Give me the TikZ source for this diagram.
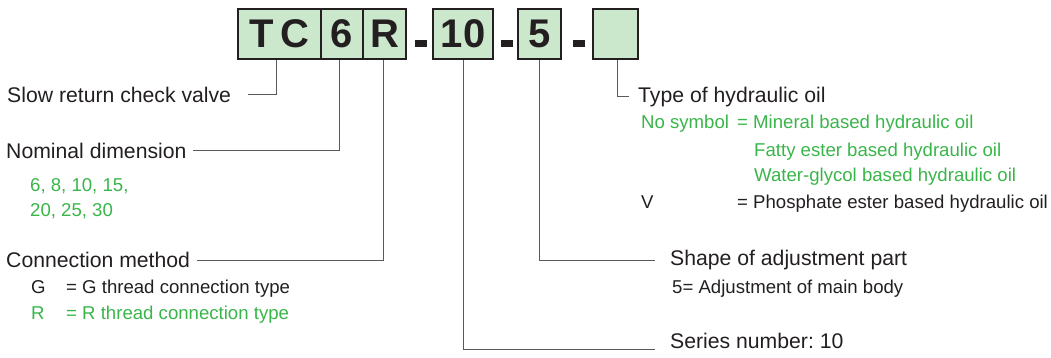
\documentclass[tikz,border=0pt]{standalone}
\usepackage{fontspec}
\setmainfont{Liberation Sans}
\frenchspacing
\definecolor{codefill}{RGB}{204,232,204}
\definecolor{codegreen}{RGB}{57,181,74}
\definecolor{ink}{RGB}{35,31,32}
\definecolor{leadgray}{RGB}{88,89,91}
\begin{document}
\begin{tikzpicture}[
    x=1pt, y=-1pt,
    codebox/.style={draw=ink, line width=1.3pt, fill=codefill, minimum height=50pt,
        inner sep=0pt, text=ink, font=\fontsize{40}{40}\selectfont\bfseries},
    sepbar/.style={fill=ink, minimum width=12pt, minimum height=7pt, inner sep=0pt},
    leader/.style={draw=leadgray, line width=1pt},
    head/.style={anchor=base west, inner sep=0pt, text=ink, font=\fontsize{21.2}{24}\selectfont},
    item/.style={anchor=base west, inner sep=0pt, text=ink, font=\fontsize{18.6}{22}\selectfont},
    greenitem/.style={item, text=codegreen}
]
    \useasboundingbox (0,0) rectangle (1051,358);

    % Define coordinates
    \def\boxY{34}
    \def\eqX{737}
    \def\valX{754}

    % Code boxes
    \node[codebox, minimum width=83pt] (tc) at (279.5,\boxY) {T\kern6pt C};
    \node[codebox, minimum width=42pt] (b6) at (342,\boxY) {6};
    \node[codebox, minimum width=43pt] (bR) at (384.5,\boxY) {R};
    \node[codebox, minimum width=60pt] (b10) at (463,\boxY) {10};
    \node[codebox, minimum width=43pt] (b5) at (539.5,\boxY) {5};
    \node[codebox, minimum width=45pt] (boil) at (615.5,\boxY) {};

    % Separators
    \foreach \x/\name in {421/sepA, 507/sepB, 578.5/sepC} {
        \node[sepbar] (\name) at (\x,43.5) {};
    }

    % Labels (left)
    \node[head] (slow) at (7,103) {Slow return check valve};
    \node[head] (nom) at (6,159) {Nominal dimension};
    \node[greenitem] (dimA) at (30,191) {6, 8, 10, 15,};
    \node[greenitem] (dimB) at (30,216) {20, 25, 30};
    \node[head] (con) at (6,267) {Connection method};
    \node[item] (gkey) at (31,293) {G};
    \node[item] (gval) at (66,293) {= G thread connection type};
    \node[greenitem] (rkey) at (31,319) {R};
    \node[greenitem] (rval) at (66,319) {= R thread connection type};

    % Labels (right)
    \node[head] (oil) at (638,103) {Type of hydraulic oil};
    \node[greenitem] (nosym) at (641,129) {No symbol};
    \node[greenitem] (mineral) at (\eqX,129) {= Mineral based hydraulic oil};
    \node[greenitem] (fatty) at (\valX,157) {Fatty ester based hydraulic oil};
    \node[greenitem] (glycol) at (\valX,182) {Water-glycol based hydraulic oil};
    \node[item] (vkey) at (641,208) {V};
    \node[item] (phos) at (\eqX,208) {= Phosphate ester based hydraulic oil};
    \node[head] (shape) at (670,265) {Shape of adjustment part};
    \node[item] (adj) at (672,293) {5= Adjustment of main body};
    \node[head] (series) at (670,348) {Series number: 10};

    % Leader ends
    \coordinate (slowend) at (248,95);
    \coordinate (nomend) at (193,151);
    \coordinate (conend) at (197,260);
    \coordinate (oilend) at (629,97);
    \coordinate (shapeend) at (655,260);
    \coordinate (seriesend) at (655,349);

    % Leaders
    \draw[leader] ([xshift=-3.5pt]tc.south) |- (slowend);
    \draw[leader] ([xshift=-3pt]b6.south) |- (nomend);
    \draw[leader] ([xshift=-1.5pt]bR.south) |- (conend);
    \draw[leader] (b10.south) |- (seriesend);
    \draw[leader] (b5.south) |- (shapeend);
    \draw[leader] ([xshift=2pt]boil.south) |- (oilend);

\end{tikzpicture}
\end{document}
